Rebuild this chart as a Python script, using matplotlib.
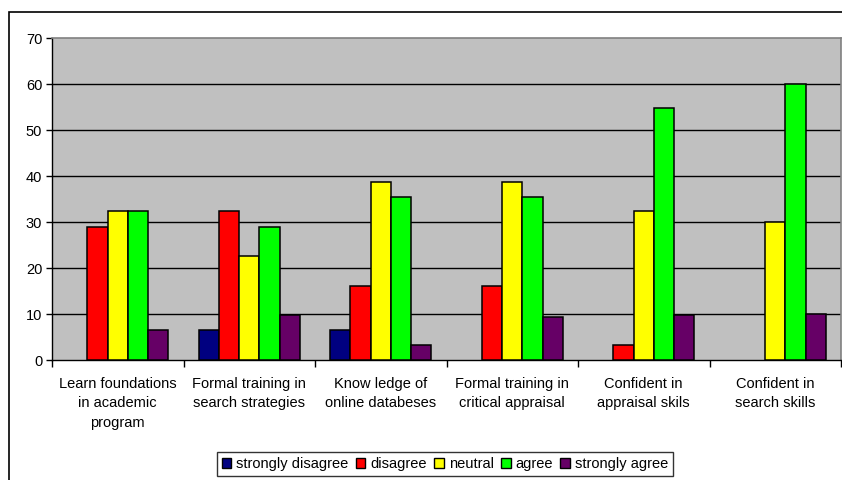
import numpy as np
import matplotlib
matplotlib.use("Agg")
import matplotlib.pyplot as plt
from matplotlib.patches import Rectangle, Patch

plt.rcParams['font.family'] = ['Liberation Sans', 'DejaVu Sans']

categories = [
    "Learn foundations\nin academic\nprogram",
    "Formal training in\nsearch strategies",
    "Know ledge of\nonline databeses",
    "Formal training in\ncritical appraisal",
    "Confident in\nappraisal skils",
    "Confident in\nsearch skills",
]
series_names = ["strongly disagree", "disagree", "neutral", "agree", "strongly agree"]
strongly_disagree = [0.0, 6.5, 6.5, 0.0, 0.0, 0.0]
disagree = [29.0, 32.3, 16.1, 16.1, 3.2, 0.0]
neutral = [32.3, 22.6, 38.7, 38.7, 32.3, 30.0]
agree = [32.3, 29.0, 35.5, 35.5, 54.8, 60.0]
strongly_agree = [6.5, 9.7, 3.2, 9.4, 9.7, 10.0]
colors = ["#000080", "#FF0000", "#FFFF00", "#00FF00", "#660066"]
yticks = [0, 10, 20, 30, 40, 50, 60, 70]

W, H = 842, 480
fig = plt.figure(figsize=(W / 100, H / 100), dpi=100)
fig.patch.set_facecolor("white")

# outer chart frame (runs off the right and bottom edges)
fig.patches.append(Rectangle((9 / W, -0.2), 1.2, 1.2 - 12 / H, transform=fig.transFigure,
                             fill=False, edgecolor="black", lw=1.2))

ax = fig.add_axes([52 / W, 1 - 360 / H, (841 - 52) / W, (360 - 38) / H])
ax.set_facecolor("#C0C0C0")

data = [strongly_disagree, disagree, neutral, agree, strongly_agree]
n = len(categories)
x = np.arange(n)
bw = 1 / 6.5
for i, (vals, col, name) in enumerate(zip(data, colors, series_names)):
    vals = np.asarray(vals)
    offs = (i - 2) * bw
    # zero-valued cells get no outline so no stray stroke sits on the axis
    edges = ["black" if v > 0 else "none" for v in vals]
    ax.bar(x + offs, vals, width=bw, color=col, edgecolor=edges, linewidth=1.1, zorder=3)
ax.set_xlim(-0.5, n - 0.5)
ax.set_ylim(0, 70)
ax.set_yticks(yticks)
ax.tick_params(axis="y", direction="out", length=4, width=1, labelsize=10.5, pad=3)
for y in yticks[1:-1]:
    ax.axhline(y, color="black", lw=1, zorder=1)

ax.set_xticks(x)
ax.set_xticklabels(categories, fontsize=10.5, linespacing=1.5)
ax.tick_params(axis="x", which="major", length=0, pad=12)
ax.set_xticks(np.arange(n + 1) - 0.5, minor=True)
ax.tick_params(axis="x", which="minor", direction="out", length=5, width=1)

for side in ["top", "right"]:
    ax.spines[side].set_color("#808080")
    ax.spines[side].set_linewidth(1.2)
ax.spines["left"].set_color("black")
ax.spines["bottom"].set_color("black")
ax.spines["left"].set_linewidth(1)
ax.spines["bottom"].set_linewidth(1)

handles = [Patch(facecolor=c, edgecolor="black", linewidth=1) for c in colors]
leg = fig.legend(handles, series_names, loc="center", bbox_to_anchor=(445 / W, 1 - 464 / H),
                 ncol=5, fontsize=10.5, frameon=True, fancybox=False, shadow=False,
                 handlelength=0.65, handleheight=0.65, handletextpad=0.35,
                 columnspacing=0.5, borderpad=0.35, borderaxespad=0)
leg.get_frame().set_edgecolor("black")
leg.get_frame().set_linewidth(1)

fig.savefig("out.png", dpi=100)
